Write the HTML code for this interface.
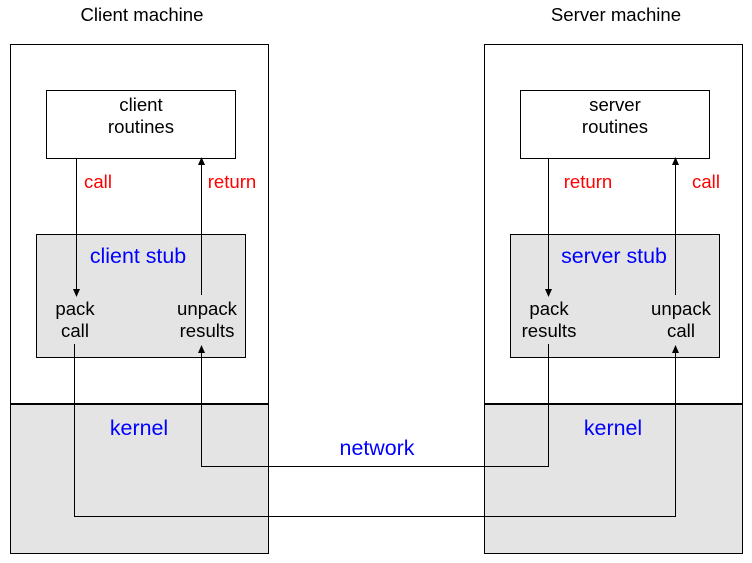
<!DOCTYPE html>
<html><head><meta charset="utf-8"><style>body{margin:0;background:#fff}svg{display:block}text{font-family:"Liberation Sans",sans-serif;font-size:18.6px;text-anchor:middle}text.b{font-size:21.4px;fill:#00f}</style></head><body>
<svg width="752" height="563" viewBox="0 0 752 563" xmlns="http://www.w3.org/2000/svg">
<defs><marker id="a" markerWidth="8" markerHeight="8" refX="7" refY="4" orient="auto" markerUnits="userSpaceOnUse"><path d="M0,0.5 L8,4 L0,7.5 z" fill="#000"/></marker></defs>
<text x="142" y="21">Client machine</text>
<text x="616" y="21">Server machine</text>
<g stroke="#000" stroke-width="1">
<rect x="10.5" y="44.5" width="258" height="509" fill="#fff"/>
<rect x="10.5" y="404.5" width="258" height="149" fill="#e4e4e4"/>
<rect x="484.5" y="44.5" width="258" height="509" fill="#fff"/>
<rect x="484.5" y="404.5" width="258" height="149" fill="#e4e4e4"/>
<rect x="46.5" y="90.5" width="189" height="68" fill="#fff"/>
<rect x="520.5" y="90.5" width="189" height="68" fill="#fff"/>
<rect x="36.5" y="234.5" width="209" height="123" fill="#e4e4e4"/>
<rect x="510.5" y="234.5" width="209" height="123" fill="#e4e4e4"/>
</g>
<line x1="10" y1="404" x2="269" y2="404" stroke="#000" stroke-width="2"/>
<line x1="484" y1="404" x2="743" y2="404" stroke="#000" stroke-width="2"/>
<g stroke="#000" stroke-width="1" fill="none">
<line x1="76.5" y1="158" x2="76.5" y2="296" marker-end="url(#a)"/>
<line x1="201.5" y1="295" x2="201.5" y2="158" marker-end="url(#a)"/>
<line x1="548.5" y1="158" x2="548.5" y2="296" marker-end="url(#a)"/>
<line x1="675.5" y1="295" x2="675.5" y2="158" marker-end="url(#a)"/>
<polyline points="74.5,344 74.5,516.5 675.5,516.5 675.5,346" marker-end="url(#a)"/>
<polyline points="548.5,344 548.5,466.5 201.5,466.5 201.5,346" marker-end="url(#a)"/>
</g>
<text x="141" y="111">client</text><text x="141" y="133">routines</text>
<text x="615" y="111">server</text><text x="615" y="133">routines</text>
<g fill="#f00"><text x="98" y="188">call</text><text x="232" y="188">return</text><text x="588" y="188">return</text><text x="706" y="188">call</text></g>
<text class="b" x="138" y="263">client stub</text><text class="b" x="614" y="263">server stub</text><text class="b" x="139" y="435">kernel</text><text class="b" x="613" y="435">kernel</text><text class="b" x="377" y="455">network</text>
<text x="75" y="315">pack</text><text x="75" y="337">call</text>
<text x="207" y="315">unpack</text><text x="207" y="337">results</text>
<text x="549" y="315">pack</text><text x="549" y="337">results</text>
<text x="681" y="315">unpack</text><text x="681" y="337">call</text>
</svg>
</body></html>
